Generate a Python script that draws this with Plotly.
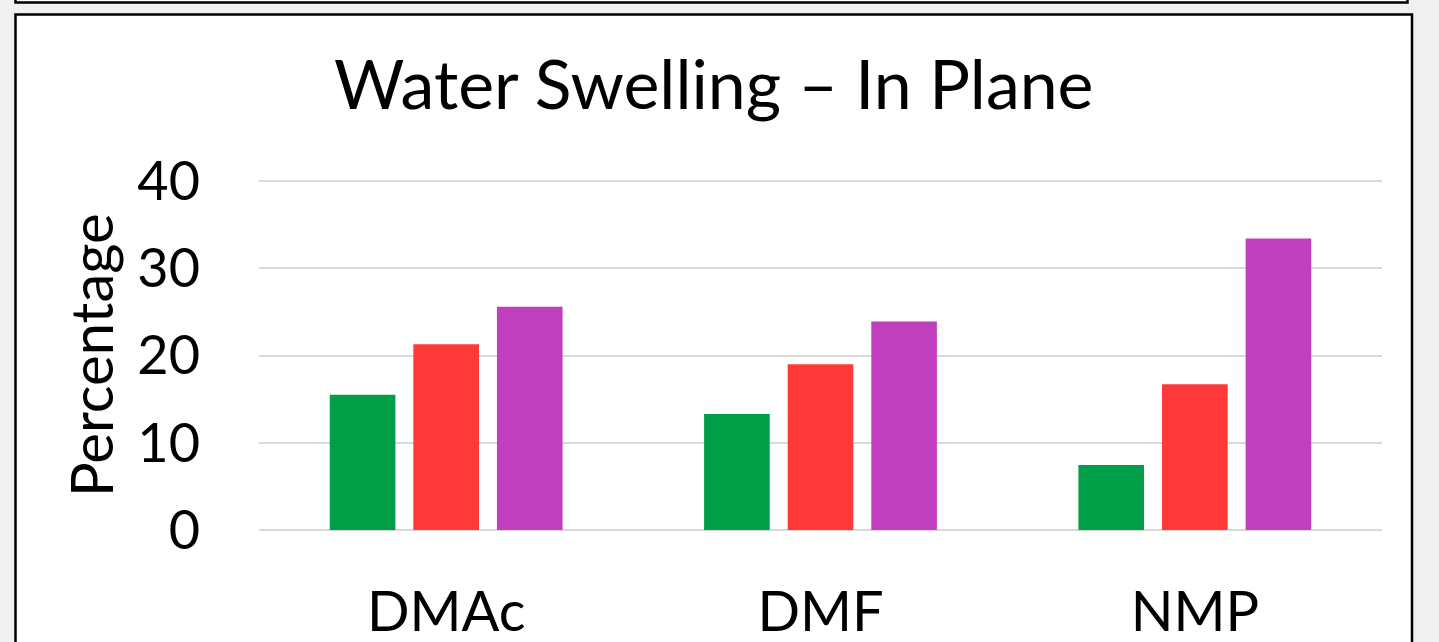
import plotly.graph_objects as go

W, H = 1439, 642

# Data
solvents = ["DMAc", "DMF", "NMP"]
series_a = [15.5, 13.3, 7.45]
series_b = [21.3, 19.0, 16.7]
series_c = [25.6, 23.9, 33.4]
colors = ["#009E47", "#FF3838", "#BF3FBF"]
tick_vals = [0, 10, 20, 30, 40]

FONT = "Lato"

def px_x(x):
    return x / W

def px_y(y):
    return 1 - y / H

# value axis: 0 at y=530 px, 40 at y=181 px; range slightly past 40 so the top gridline shows
Y_MAX = 41
y_top_px = 530 - (530 - 181) * Y_MAX / 40

fig = go.Figure()
for name, vals, col in zip(["A", "B", "C"], [series_a, series_b, series_c], colors):
    fig.add_trace(go.Bar(x=solvents, y=vals, name=name, marker=dict(color=col, line=dict(width=0)),
                         showlegend=False))

fig.update_layout(
    width=W, height=H,
    margin=dict(l=0, r=0, t=0, b=0, autoexpand=False),
    paper_bgcolor="#F0F0F0",
    plot_bgcolor="white",
    barmode="group",
    bargap=0.33,
    bargroupgap=0.215,
    font=dict(family=FONT, color="black"),
    xaxis=dict(domain=[px_x(259), px_x(1382)], showgrid=False, showline=False, zeroline=False,
               ticks="", tickfont=dict(size=56, family=FONT), ticklabelstandoff=44),
    yaxis=dict(domain=[px_y(530), px_y(y_top_px)], range=[0, Y_MAX], tickvals=tick_vals,
               showgrid=True, gridcolor="#D9D9D9", gridwidth=1.5, zeroline=True,
               zerolinecolor="#D9D9D9", zerolinewidth=1.5, showline=False, ticks="",
               tickfont=dict(size=54, family=FONT), ticklabelstandoff=58),
    shapes=[
        # white panel with black frame
        dict(type="rect", xref="paper", yref="paper", layer="below",
             x0=px_x(15.5), x1=px_x(1412), y0=px_y(660), y1=px_y(14.5),
             fillcolor="white", line=dict(color="black", width=2.5)),
        dict(type="rect", xref="paper", yref="paper", layer="below",
             x0=px_x(15.5), x1=px_x(1407.5), y0=px_y(2.5), y1=px_y(-20),
             fillcolor="white", line=dict(color="black", width=2.5)),
    ],
    annotations=[
        dict(text="Water Swelling \u2013 In Plane", xref="paper", yref="paper",
             x=px_x(714), y=px_y(83), xanchor="center", yanchor="middle", showarrow=False,
             font=dict(size=68, family=FONT)),
        dict(text="Percentage", xref="paper", yref="paper", textangle=-90,
             x=px_x(90), y=px_y(355), xanchor="center", yanchor="middle", showarrow=False,
             font=dict(size=58, family=FONT)),
    ],
)

fig.write_html("out.html")
